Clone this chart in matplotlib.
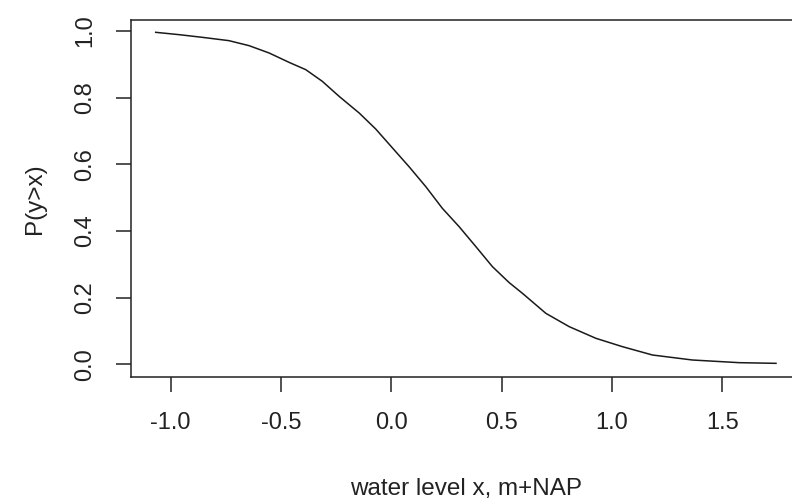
import matplotlib
matplotlib.use("Agg")
import matplotlib.pyplot as plt

# exceedance curve
water_level = [-1.068, -0.962, -0.857, -0.736, -0.645, -0.554, -0.464, -0.388, -0.313,
               -0.237, -0.146, -0.071, 0.005, 0.080, 0.156, 0.231, 0.307, 0.383, 0.458,
               0.534, 0.594, 0.700, 0.806, 0.927, 1.047, 1.183, 1.364, 1.576, 1.743]
p_exceed = [0.996, 0.989, 0.981, 0.971, 0.956, 0.934, 0.906, 0.884, 0.849,
            0.804, 0.754, 0.706, 0.649, 0.593, 0.533, 0.468, 0.413, 0.353, 0.293,
            0.245, 0.213, 0.153, 0.113, 0.078, 0.053, 0.028, 0.013, 0.005, 0.003]
xticks = [-1.0, -0.5, 0.0, 0.5, 1.0, 1.5]
yticks = [0.0, 0.2, 0.4, 0.6, 0.8, 1.0]

plt.rcParams['font.family'] = ['Liberation Sans', 'DejaVu Sans']

fig = plt.figure(figsize=(7.92, 5.01), dpi=100)
ax = fig.add_axes([0.1654, 0.2475, 0.847, 0.7126])
ax.plot(water_level, p_exceed, color='#1a1a1a', lw=1.1)

ax.set_xlim(-1.18, 1.86)
ax.set_ylim(-0.038, 1.033)
ax.set_xticks(xticks)
ax.set_xticklabels([f"{v:.1f}" for v in xticks])
ax.set_yticks(yticks)
ax.set_yticklabels([f"{v:.1f}" for v in yticks], rotation=90, va='center')
ax.tick_params(direction='out', length=11, width=1.1, labelsize=17, pad=14, colors='#222222')
for s in ax.spines.values():
    s.set_linewidth(1.1)
    s.set_color('#222222')

ax.set_xlabel('water level x, m+NAP', fontsize=17.5, labelpad=32, color='#222222')
ax.set_ylabel('P(y>x)', fontsize=17.5, labelpad=20, color='#222222')

plt.savefig('out.png', dpi=100)
